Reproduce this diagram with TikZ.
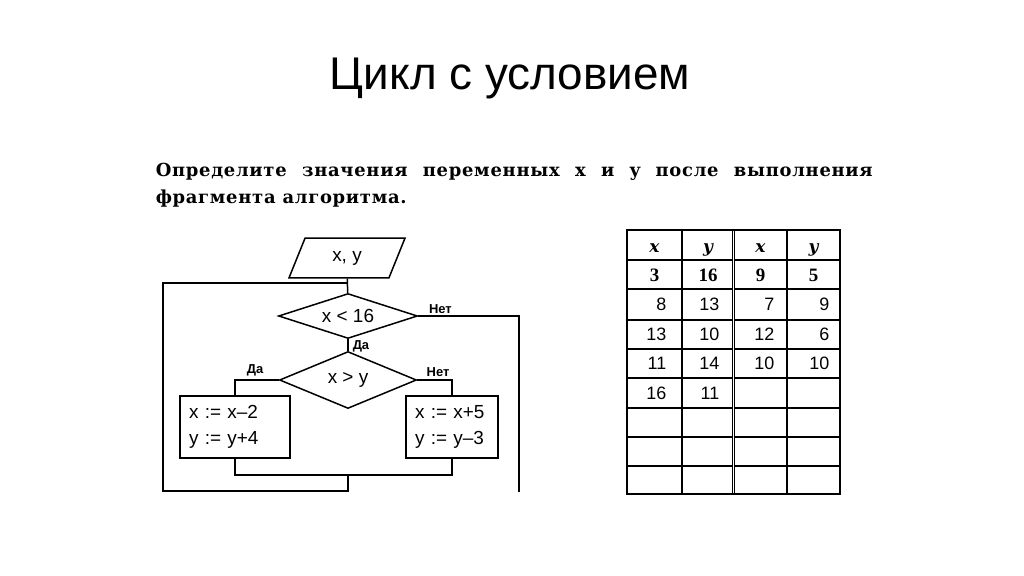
\documentclass[tikz,border=0pt]{standalone}
\usepackage{fontspec}
\setmainfont{Liberation Serif}
\setsansfont{Liberation Sans}
\newfontfamily\taskfont{DejaVu Serif}
\usetikzlibrary{shapes.geometric,positioning}
\tikzset{
io/.style    = {draw, trapezium, trapezium left angle=68, trapezium right angle=112, minimum width=116bp, minimum height=38bp, inner sep=0pt, font=\sffamily\fontsize{19}{19}\selectfont},
cond/.style  = {draw, diamond, inner sep=0pt, font=\sffamily\fontsize{19}{19}\selectfont},
block/.style = {draw, rectangle, minimum height=62bp, inner xsep=9bp, inner ysep=0pt, align=left, font=\sffamily\fontsize{19}{26}\selectfont},
lbl/.style   = {inner sep=0pt, font=\sffamily\bfseries\fontsize{13}{13}\selectfont},
tmp/.style   = {coordinate},
head/.style  = {inner sep=0pt, anchor=base, font=\taskfont\bfseries\itshape\fontsize{17}{17}\selectfont},
first/.style = {inner sep=0pt, anchor=base, font=\bfseries\fontsize{19}{19}\selectfont},
val/.style   = {inner sep=0pt, anchor=east, font=\sffamily\fontsize{18}{18}\selectfont},
grid/.style  = {line width=1.1bp},
frame/.style = {line width=1.8bp}
}

\begin{document}
\begin{tikzpicture}[x=1bp, y=-1bp, line width=1.5bp]
  \useasboundingbox[fill=white] (0,0) rectangle (1024,576);

  % title and task
  \node [anchor=base, inner sep=0pt, font=\sffamily\fontsize{46}{46}\selectfont] (title) at (510,90) {Цикл с условием};
  \node [anchor=north west, inner sep=0pt, text width=717bp, align=justify, font=\taskfont\bfseries\fontsize{18}{27}\selectfont\addfontfeature{LetterSpace=4}] (task) at (155,162.5)
    {Определите значения переменных x и y после выполнения\linebreak фрагмента алгоритма.};

  % flowchart
  \node [io]                                                        (inp)  at (347,258) {x, y};
  \node [cond, aspect=3.1, minimum width=139bp, minimum height=45bp] (cnd1) at (348,316) {x < 16};
  \node [cond, aspect=2.4, minimum width=137bp, minimum height=57bp] (cnd2) at (348,380) {x > y};
  \node [block, text width=92bp]                                    (blk1) at (235,427) {x := x–2\\y := y+4};
  \node [block, text width=74bp]                                    (blk2) at (452,427) {x := x+5\\y := y–3};
  \node [tmp] (join)  at (348,283) {};
  \node [tmp] (merge) at (348,475) {};
  \node [tmp] (back)  at (348,491) {};
  \node [tmp] (backl) at (163,491) {};
  \node [tmp] (topl)  at (163,283) {};
  \node [tmp] (exit)  at (519,492) {};

  \draw (inp) -- (cnd1);
  \draw (cnd1) -- node[lbl, pos=0.6, anchor=west, xshift=4bp] {Да} (cnd2);
  \draw (cnd1.east) -- node[lbl, pos=0.1, anchor=south west, yshift=2bp] {Нет} (exit |- cnd1.east) -- (exit);
  \draw (cnd2.west) -| node[lbl, pos=0.27, anchor=south, yshift=3bp] {Да} (blk1.north);
  \draw (cnd2.east) -| node[lbl, pos=0.3, anchor=south, yshift=3bp] {Нет} (blk2.north);
  \draw (blk1.south) |- (merge) -| (blk2.south);
  \draw (merge) -- (back) -- (backl) -- (topl) -- (join);

  % table
  \foreach \y in {260,289,320,349,378,408,437,466}
    \draw [grid] (627,\y) -- (840,\y);
  \foreach \x in {682,787}
    \draw [grid] (\x,230) -- (\x,494);
  \draw [grid, double, double distance=1.2bp] (733.5,230) -- (733.5,494);
  \draw [frame] (627,230) rectangle (840,494);

  \foreach \cx/\t [count=\c] in {654.5/x,708/y,760.5/x,813.5/y}
    \node [head]  (hd\c) at (\cx,253) {\t};
  \foreach \cx/\t [count=\c] in {654.5/3,708/16,760.5/9,813.5/5}
    \node [first] (st\c) at (\cx,282) {\t};
  \foreach \ex/\v [count=\c] in {667/8,720/13,775/7,830/9}
    \node [val] (ra\c) at (\ex,304.5) {\v};
  \foreach \ex/\v [count=\c] in {667/13,720/10,775/12,830/6}
    \node [val] (rb\c) at (\ex,334.5) {\v};
  \foreach \ex/\v [count=\c] in {667/11,720/14,775/10,830/10}
    \node [val] (rc\c) at (\ex,363.5) {\v};
  \foreach \ex/\v [count=\c] in {667/16,720/11}
    \node [val] (rd\c) at (\ex,393) {\v};
\end{tikzpicture}
\end{document}
